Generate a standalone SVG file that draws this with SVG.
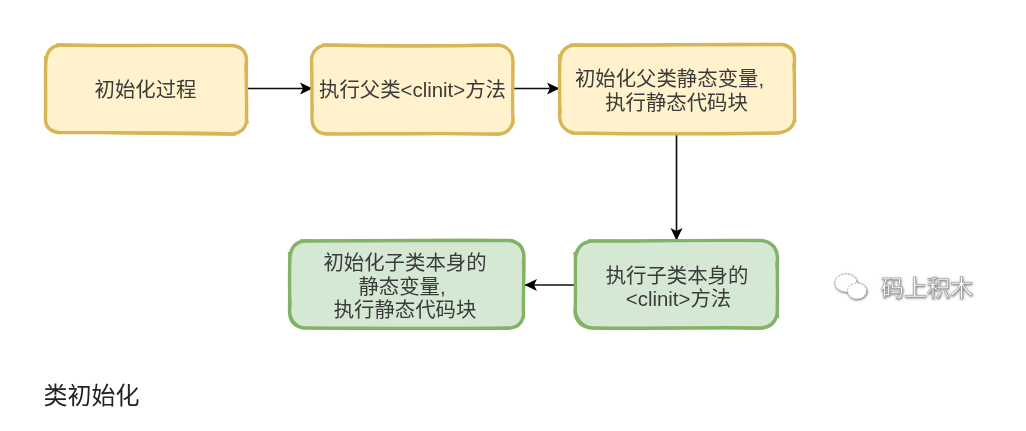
<svg xmlns="http://www.w3.org/2000/svg" width="1026" height="431" viewBox="0 0 1026 431">
<defs>
<marker id="arrow" viewBox="0 0 13 13" refX="12" refY="6.500" markerWidth="13" markerHeight="13" markerUnits="userSpaceOnUse" orient="auto"><path d="M0 0.500L12.500 6.500L0 12.500L3 6.500Z" fill="#000"/></marker>
<filter id="wmshadow" x="-10%" y="-30%" width="120%" height="160%"><feDropShadow dx="0.5" dy="0.8" stdDeviation="0.8" flood-color="#555" flood-opacity="0.9"/></filter>
<filter id="soft" x="-5%" y="-5%" width="110%" height="110%"><feGaussianBlur stdDeviation="0.35"/></filter>
</defs>
<style>
text{font-family:"Liberation Sans","Noto Sans CJK SC",sans-serif;font-size:20.4px;fill:#3a3a3a;text-anchor:middle}
.y path{fill:#fff2cc;stroke:#d6b656;stroke-width:3.4}
.g path{fill:#d5e8d4;stroke:#82b366;stroke-width:3.4}
.y path.s,.g path.s{fill:none;stroke-width:1.6}
.c{fill:none;stroke:#111;stroke-width:1.6;marker-end:url(#arrow)}
</style>
<rect width="1026" height="431" fill="#fff"/>
<g id="connectors" filter="url(#soft)">
<path class="c" d="M247 88.500H312"/>
<path class="c" d="M514 88.500H559"/>
<path class="c" d="M676.500 134V240"/>
<path class="c" d="M575 285H525"/>
</g>
<g id="n1" class="y" filter="url(#soft)"><path d="M60 45C110 46 180 45 233 45.500C242 47 247 52 246.500 62C246 85 247 105 246.500 122C245 130 240 133 233 134C180 132 110 133 58 132.500C50 131 45 127 45.500 118C46 95 45 70 46 60C47 50 52 46 60 45Z"/><path class="s" d="M56 44C120 46 190 43.500 236 46C243 48 248 55 245 66C247 90 245 108 248 124M236 135C170 134 100 135 52 131C47 128 44 122 46 112C44 90 47 70 44.500 56"/><text x="145.500" y="97">初始化过程</text></g>
<g id="n2" class="y" filter="url(#soft)"><path d="M326 45C370 46 450 46 498 45C507 46 513 52 513 62C513 85 512 105 513 120C512 129 506 134 498 134C450 133 370 134 326 134C317 133 312 128 312 118C312 95 312 70 311.500 60C312 51 318 46 326 45Z"/><path class="s" d="M322 44C390 46 450 44 502 46C510 48 515 56 512 68C514 90 512 110 514 124M500 135C440 133 380 136 322 133C314 130 310 122 313 110C310 90 313 70 310.500 56"/><text x="412.500" y="97">执行父类&lt;clinit&gt;方法</text></g>
<g id="n3" class="y" filter="url(#soft)"><path d="M574 45C630 46 720 44 782 44.500C791 46 795 51 794.500 60C794 85 795 105 794.500 120C793 128 787 132 778 133C720 134 630 134 574 133C565 131 560 126 559.500 116C560 95 559 70 560 60C561 51 566 46 574 45Z"/><path class="s" d="M570 44C640 45 720 42.500 785 44C792 47 796 54 793 66C796 88 793 108 796 122M782 132C720 135 640 132 572 134C564 130 558 124 561 110C558 90 561 70 558.500 54"/><text x="669.500" y="86">初始化父类静态变量,</text><text x="676.500" y="110">执行静态代码块</text></g>
<g id="n4" class="g" filter="url(#soft)"><path d="M592 241C640 241 710 240 762 240.500C771 242 777 247 777.500 258C777 280 778 300 777 315C775 323 770 327 762 328C710 327 640 329 592 328C582 327 576 322 575 312C576 295 575 275 575.500 257C577 247 583 242 592 241Z"/><path class="s" d="M588 240C650 242 710 239 766 241C774 244 779 252 776 264C779 285 776 305 778.500 318M762 329C700 327 640 330 590 327C581 324 574 316 576.500 304C574 285 577 270 574 252"/><text x="677" y="283">执行子类本身的</text><text x="678.500" y="306">&lt;clinit&gt;方法</text></g>
<g id="n5" class="g" filter="url(#soft)"><path d="M304 241C350 241 450 240 510 240.500C519 242 524 247 524 258C524 280 523 300 523.500 315C522 324 516 328 508 328C450 329 350 328 304 328C295 327 290 322 289.500 312C290 295 289 275 290 257C291 247 296 242 304 241Z"/><path class="s" d="M300 240C370 241 450 238.500 512 240C520 243 525 251 522.500 262C525 285 522 305 524.500 318M510 329C440 327 370 330 302 327C294 324 288 316 291 304C288 285 291 268 288.500 252"/><text x="405" y="270">初始化子类本身的</text><text x="402" y="294">静态变量,</text><text x="405" y="317">执行静态代码块</text></g>
<text x="91.500" y="404" style="font-size:24px;fill:#222" filter="url(#soft)">类初始化</text>
<g id="watermark">
<g fill="#fff" stroke="#aaa" stroke-width="1" stroke-dasharray="2 1.500" filter="url(#wmshadow)"><ellipse cx="846" cy="283" rx="11" ry="9"/><ellipse cx="857" cy="291" rx="9.500" ry="8"/></g>
<text x="927" y="296" style="font-size:23px;fill:#fff;stroke:#888;stroke-width:0.500" filter="url(#wmshadow)">码上积木</text>
</g>
</svg>
